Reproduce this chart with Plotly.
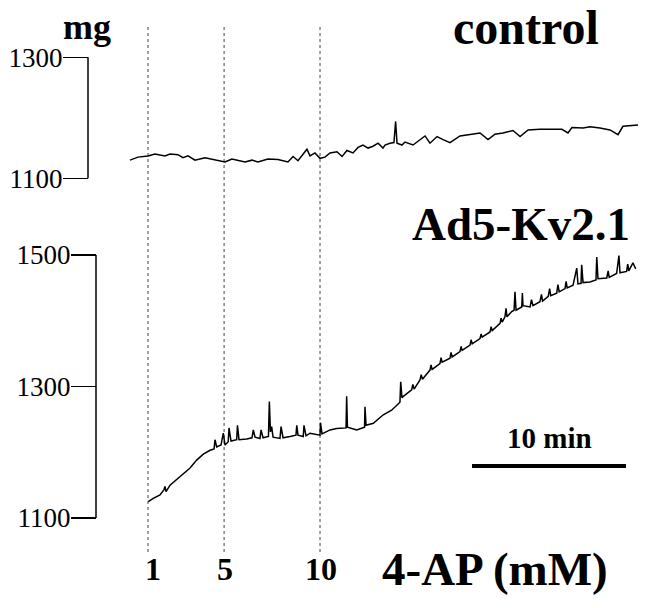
import plotly.graph_objects as go

# ---- data (time in minutes from 1 mM 4-AP addition, force in mg) ----
control_t = [-1.17, -0.65, 0.0, 0.45, 1.10, 1.43, 1.95, 2.27, 2.60, 3.05, 3.70, 4.35, 5.0, 5.45, 5.84,
             6.30, 6.75, 7.14, 7.79, 8.44, 9.09, 9.42, 9.74, 10.19, 10.32, 10.52, 10.84, 11.17, 11.49,
             11.82, 12.27, 12.60, 12.92, 13.31, 13.64, 13.96, 14.29, 14.61, 14.94, 15.26, 15.39, 15.71,
             15.97, 16.08, 16.17, 16.49, 16.69, 17.21, 17.66, 17.99, 18.31, 18.77, 19.16, 19.61, 20.26,
             20.91, 21.56, 22.08, 22.53, 23.05, 23.70, 24.16, 24.68, 25.45, 26.88, 27.27, 27.53, 28.25,
             28.70, 29.35, 30.0, 30.52, 30.84, 31.82]
control_mg = [1130, 1135, 1137, 1140, 1137, 1140, 1139, 1134, 1137, 1130, 1134, 1130, 1127, 1132, 1130,
              1127, 1130, 1127, 1132, 1131, 1127, 1136, 1129, 1143, 1148, 1137, 1142, 1133, 1135,
              1142, 1144, 1136, 1146, 1142, 1151, 1155, 1150, 1153, 1158, 1150, 1155, 1158,
              1159, 1194, 1158, 1155, 1160, 1155, 1163, 1170, 1158, 1169, 1164, 1159, 1170,
              1173, 1175, 1164, 1173, 1175, 1179, 1169, 1180, 1181, 1181, 1175, 1184, 1183,
              1185, 1183, 1180, 1172, 1186, 1188]

kv_t = [0.02, 0.34, 0.78, 1.04, 1.10, 1.17, 1.43, 1.86, 2.29, 2.73, 3.16, 3.59, 4.03, 4.29, 4.35, 4.46,
        4.74, 4.89, 5.0, 5.21, 5.26, 5.39, 5.76, 5.81, 5.91, 6.41, 6.75, 6.84, 6.95, 7.27, 7.34, 7.47,
        7.82, 7.88, 7.95, 8.03, 8.12, 8.57, 8.64, 8.77, 9.22, 9.61, 9.66, 9.74, 10.08, 10.13, 10.26,
        10.52, 11.17, 11.20, 11.30, 11.82, 12.25, 12.86, 12.90, 12.95, 13.55, 14.06, 14.09, 14.16,
        14.63, 15.28, 15.82, 16.15, 16.36, 16.41, 16.49, 16.58,
        17.12, 17.20, 17.28, 17.66, 17.74, 17.82, 18.31, 18.38, 18.45, 18.96, 19.03, 19.10,
        19.61, 19.68, 19.75, 20.26, 20.33, 20.40, 20.91, 20.98, 21.05, 21.56, 21.63, 21.70,
        22.21, 22.28, 22.35, 22.86, 22.93, 23.00,
        23.18, 23.25, 23.31, 23.62, 23.77, 23.83, 23.90, 24.27,
        24.31, 24.35, 24.81, 24.90, 25.00, 25.45, 25.55, 25.62, 25.99, 26.08, 26.15,
        26.54, 26.62, 26.70, 27.08, 27.15, 27.22, 27.60, 27.84, 27.92, 28.12, 28.16, 28.25,
        28.70, 29.09, 29.14, 29.22, 29.79, 29.88, 29.95, 30.43, 30.58, 30.65,
        31.08, 31.15, 31.22, 31.49, 31.67]
kv_mg = [1125, 1130, 1135, 1143, 1148, 1140, 1150, 1159, 1167, 1176, 1188, 1197, 1203, 1205, 1219, 1208,
         1211, 1229, 1211, 1216, 1237, 1217, 1219, 1241, 1219, 1220, 1222, 1234, 1223, 1221, 1234, 1222,
         1224, 1277, 1231, 1239, 1223, 1221, 1239, 1222, 1224, 1226, 1241, 1226, 1224, 1241, 1225,
         1229, 1226, 1245, 1228, 1234, 1236, 1237, 1285, 1238, 1234, 1238, 1269, 1241,
         1244, 1257, 1264, 1272, 1276, 1307, 1283, 1285,
         1295, 1303, 1296, 1310, 1318, 1311, 1325, 1333, 1326, 1335, 1344, 1337,
         1343, 1352, 1345, 1353, 1361, 1355, 1363, 1371, 1365, 1373, 1380, 1375,
         1383, 1391, 1385, 1396, 1404, 1398,
         1406, 1419, 1406, 1414, 1416, 1444, 1416, 1421,
         1442, 1423, 1421, 1432, 1423, 1429, 1440, 1430, 1437, 1449, 1438,
         1442, 1455, 1444, 1449, 1460, 1450, 1454, 1480, 1456, 1457, 1485, 1458,
         1459, 1462, 1497, 1464, 1465, 1476, 1466, 1472, 1499, 1473,
         1475, 1486, 1476, 1488, 1479]

addition_t = [0.0, 4.94, 11.17]
addition_labels = ["1", "5", "10"]
top_ticks = [1100, 1300]
bottom_ticks = [1100, 1300, 1500]
scale_start = 21.04
scale_len = 10

W, H = 647, 608
SERIF = "Liberation Serif"

fig = go.Figure()
fig.add_trace(go.Scatter(x=control_t, y=control_mg, mode="lines", xaxis="x", yaxis="y",
                         line=dict(color="black", width=1.5), showlegend=False, hoverinfo="skip"))
fig.add_trace(go.Scatter(x=kv_t, y=kv_mg, mode="lines", xaxis="x", yaxis="y2",
                         line=dict(color="black", width=1.5), showlegend=False, hoverinfo="skip"))

# axes: x in minutes, 15.4 px per min, t=0 at px 148
x_lo = -148 / 15.4
x_hi = (W - 148) / 15.4
# top axis: 1300 at py 57.3, 1100 at py 178.3
k1 = 121.0 / 200
y1_hi = 1300 + 57.3 / k1
y1_lo = 1100 - (H - 178.3) / k1
# bottom axis: 1500 at py 255, 1100 at py 518
k2 = 263.0 / 400
y2_hi = 1500 + 255 / k2
y2_lo = 1100 - (H - 518) / k2

tickfont = dict(family=SERIF, size=27, color="black")
fig.update_layout(
    width=W, height=H, autosize=False,
    margin=dict(l=0, r=0, t=0, b=0, pad=0),
    plot_bgcolor="white", paper_bgcolor="white",
    xaxis=dict(domain=[0, 1], range=[x_lo, x_hi], visible=False, fixedrange=True),
    yaxis=dict(domain=[0, 1], range=[y1_lo, y1_hi], anchor="free", position=88 / W,
               showgrid=False, zeroline=False, showline=False, automargin=False,
               ticks="outside", ticklen=25, tickwidth=1.5, tickcolor="black",
               ticklabelstandoff=-5,
               tickvals=top_ticks, ticktext=[str(v) for v in top_ticks], tickfont=tickfont),
    yaxis2=dict(domain=[0, 1], range=[y2_lo, y2_hi], anchor="free", position=96 / W,
                overlaying="y", side="left", automargin=False,
                showgrid=False, zeroline=False, showline=False,
                ticks="outside", ticklen=25, tickwidth=1.5, tickcolor="black",
                ticklabelstandoff=-5,
                tickvals=bottom_ticks, ticktext=[str(v) for v in bottom_ticks], tickfont=tickfont),
)

shapes = []
# axis bracket lines
shapes.append(dict(type="line", xref="paper", yref="y", x0=88 / W, x1=88 / W,
                   y0=top_ticks[0], y1=top_ticks[-1], line=dict(color="black", width=1.5)))
shapes.append(dict(type="line", xref="paper", yref="y2", x0=96 / W, x1=96 / W,
                   y0=bottom_ticks[0], y1=bottom_ticks[-1], line=dict(color="black", width=1.5)))
# dotted lines for drug additions
for t in addition_t:
    shapes.append(dict(type="line", xref="x", yref="paper", x0=t, x1=t,
                       y0=1 - 552 / H, y1=1 - 27 / H, layer="below",
                       line=dict(color="#444444", width=1, dash="dot")))
# scale bar
shapes.append(dict(type="line", xref="x", yref="paper", x0=scale_start, x1=scale_start + scale_len,
                   y0=1 - 466 / H, y1=1 - 466 / H, line=dict(color="black", width=4)))
fig.update_layout(shapes=shapes)


def label(x, y, text, size, xref="paper", xshift=0):
    return dict(x=x, y=1 - y / H, xref=xref, yref="paper", text="<b>" + text + "</b>",
                showarrow=False, xanchor="center", yanchor="middle", xshift=xshift,
                font=dict(family=SERIF, size=size, color="black"))


ann = []
for t, lab in zip(addition_t, addition_labels):
    ann.append(label(t, 569, lab, 32, xref="x", xshift=5 if lab == "1" else 1))
ann.append(label(495 / W, 569, "4-AP (mM)", 47))
ann.append(label(526 / W, 28, "control", 48))
ann.append(label(521 / W, 224, "Ad5-Kv2.1", 47))
ann.append(label(87 / W, 27, "mg", 36))
ann.append(label(scale_start + scale_len / 2, 438, "10 min", 29, xref="x"))
fig.update_layout(annotations=ann)

fig.write_html("out.html", config={"displayModeBar": False, "staticPlot": True},
               post_script="document.body.style.margin='0';document.body.style.overflow='hidden';")
